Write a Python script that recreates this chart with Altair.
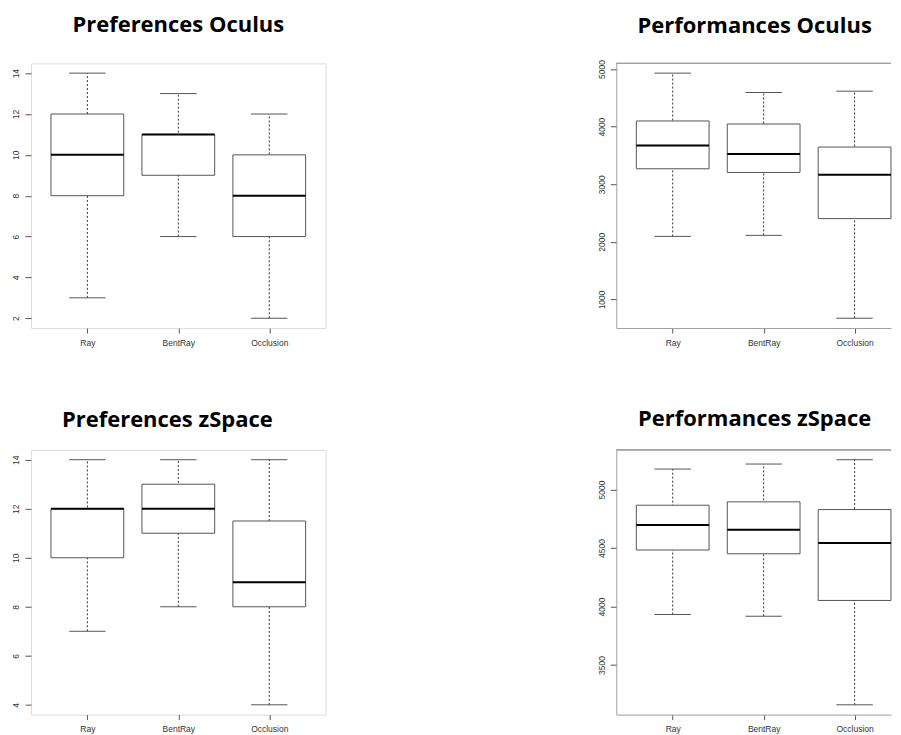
import json
import altair as alt
import pandas as pd

# ---------------- data ----------------
categories = ["Ray", "BentRay", "Occlusion"]
positions = [1, 2, 3]

pref_oculus_low = [3, 6, 2]
pref_oculus_q1 = [8, 9, 6]
pref_oculus_med = [10, 11, 8]
pref_oculus_q3 = [12, 11, 10]
pref_oculus_high = [14, 13, 12]
pref_oculus_ticks = [2, 4, 6, 8, 10, 12, 14]

perf_oculus_low = [2094, 2112, 673]
perf_oculus_q1 = [3268, 3204, 2403]
perf_oculus_med = [3674, 3523, 3164]
perf_oculus_q3 = [4098, 4045, 3645]
perf_oculus_high = [4928, 4592, 4615]
perf_oculus_ticks = [1000, 2000, 3000, 4000, 5000]

pref_zspace_low = [7, 8, 4]
pref_zspace_q1 = [10, 11, 8]
pref_zspace_med = [12, 12, 9]
pref_zspace_q3 = [12, 13, 11.5]
pref_zspace_high = [14, 14, 14]
pref_zspace_ticks = [4, 6, 8, 10, 12, 14]

perf_zspace_low = [3932, 3917, 3160]
perf_zspace_q1 = [4483, 4451, 4052]
perf_zspace_med = [4697, 4657, 4543]
perf_zspace_q3 = [4866, 4895, 4829]
perf_zspace_high = [5175, 5218, 5255]
perf_zspace_ticks = [3500, 4000, 4500, 5000]

titles = ["Preferences Oculus", "Performances Oculus",
          "Preferences zSpace", "Performances zSpace"]

# ---------------- styling ----------------
FRAME = "#888888"
EDGE = "#a0a0a0"
LEFT_W, RIGHT_W, PANEL_H = 295, 275, 265
PX_PER_UNIT = LEFT_W / 3.24
label_expr = json.dumps(categories) + "[datum.value - 1]"


def panel(low, q1, med, q3, high, yticks, title, right, dx, offset):
    df = pd.DataFrame({"cat": categories, "pos": positions, "low": low,
                       "q1": q1, "med": med, "q3": q3, "high": high})
    lo, hi = min(low), max(high)
    rng = hi - lo
    ydom = [lo - 0.04 * rng, hi + 0.04 * rng]
    width = RIGHT_W if right else LEFT_W
    xdom = [0.38, 0.38 + width / PX_PER_UNIT]

    xs = alt.Scale(domain=xdom, nice=False, zero=False)
    ys = alt.Scale(domain=ydom, nice=False, zero=False)

    base = alt.Chart(df).transform_calculate(
        xl="datum.pos - 0.4", xr="datum.pos + 0.4",
        cl="datum.pos - 0.2", cr="datum.pos + 0.2")

    whisk = base.mark_rule(color="#333", strokeWidth=1, strokeDash=[2, 2]).encode(
        x=alt.X("pos:Q", scale=xs, axis=alt.Axis(
            values=positions, labelExpr=label_expr, grid=False,
            domain=right, domainColor=EDGE, tickSize=5, tickColor="#555",
            labelPadding=5, labelBaseline="top", labelFont="Liberation Sans",
            labelFontSize=8.5, labelColor="#333", title=None)),
        y=alt.Y("low:Q", scale=ys, axis=alt.Axis(
            values=yticks, format="d", grid=False, domain=right,
            domainColor=EDGE, tickSize=6, tickColor="#555", labelAngle=270,
            labelAlign="center", labelBaseline="alphabetic", labelPadding=6,
            labelFont="Liberation Sans", labelFontSize=8.5,
            labelColor="#333", title=None)),
        y2="high:Q")
    cap_lo = base.mark_rule(color="#555", strokeWidth=1).encode(
        x="cl:Q", x2="cr:Q", y="low:Q")
    cap_hi = base.mark_rule(color="#555", strokeWidth=1).encode(
        x="cl:Q", x2="cr:Q", y="high:Q")
    box = base.mark_rect(fill="white", stroke="#555", strokeWidth=1).encode(
        x="xl:Q", x2="xr:Q", y="q1:Q", y2="q3:Q")
    median = base.mark_rule(color="black", strokeWidth=2).encode(
        x="xl:Q", x2="xr:Q", y="med:Q")

    layers = [whisk, cap_lo, cap_hi, box, median]
    if right:
        top_edge = alt.Chart(df).mark_rule(color=EDGE, strokeWidth=1).encode(
            y=alt.datum(ydom[1]))
        layers.append(top_edge)

    props = dict(width=width, height=PANEL_H,
                 title=alt.TitleParams(title, font="Open Sans", fontSize=22,
                                       fontWeight="bold", color="black",
                                       anchor="middle", baseline="alphabetic",
                                       dx=dx, offset=offset))
    ch = alt.layer(*layers).properties(**props)
    if right:
        ch = ch.properties(view=alt.ViewBackground(stroke="transparent"))
    return ch


tl = panel(pref_oculus_low, pref_oculus_q1, pref_oculus_med, pref_oculus_q3,
           pref_oculus_high, pref_oculus_ticks, titles[0], False, 0, 9)
tr = panel(perf_oculus_low, perf_oculus_q1, perf_oculus_med, perf_oculus_q3,
           perf_oculus_high, perf_oculus_ticks, titles[1], True, 1, 5)
bl = panel(pref_zspace_low, pref_zspace_q1, pref_zspace_med, pref_zspace_q3,
           pref_zspace_high, pref_zspace_ticks, titles[2], False, -11, 1)
br = panel(perf_zspace_low, perf_zspace_q1, perf_zspace_med, perf_zspace_q3,
           perf_zspace_high, perf_zspace_ticks, titles[3], True, 1, 1)

chart = alt.concat(tl, tr, bl, br, columns=2,
                   spacing={"row": 122, "column": 291}, bounds="flush").properties(
    padding={"left": 3, "top": 5, "right": 0, "bottom": 0}
).configure_view(stroke=FRAME, strokeWidth=1).configure(background="white")

chart.save("out.html", embed_options={"renderer": "svg", "actions": False})
